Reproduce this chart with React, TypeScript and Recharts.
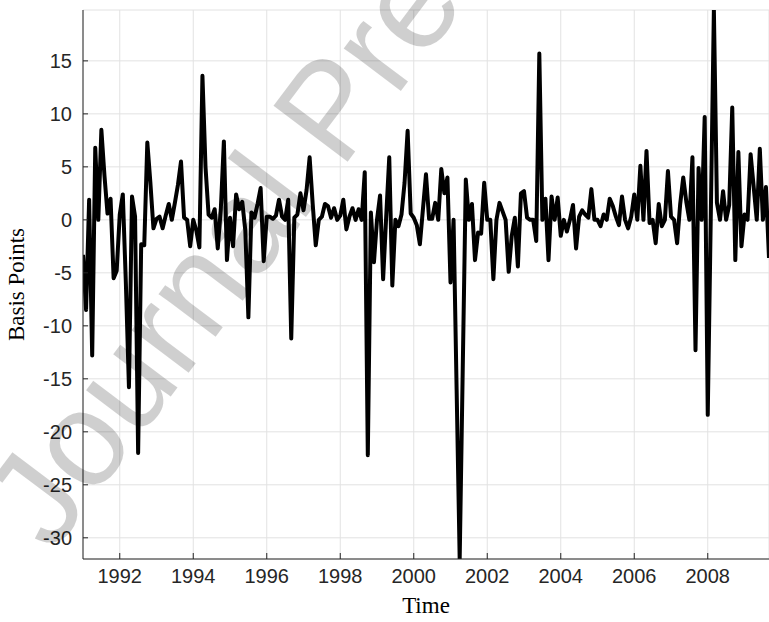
import { LineChart, Line, XAxis, YAxis, CartesianGrid } from 'recharts'

// monthly policy surprise, Jan 1991 .. Sep 2009 (basis points)
const startYear = 1991
const basisPoints = [
  -3.3, -8.5, 1.9, -12.8, 6.8, 0, 8.5, 4.2, 0.6, 2.0,
  -5.5, -4.8, 0.5, 2.4, -6, -15.8, 2.2, 0.3, -22.0, -2.3,
  -2.4, 7.3, 3.5, -0.8, 0.1, 0.3, -0.8, 0.4, 1.5, 0.0,
  1.6, 3.3, 5.5, 0.2, 0.0, -2.5, 0.0, -1.0, -2.6, 13.6,
  5.0, 0.5, 0.2, 1.0, -2.7, 1.0, 7.4, -3.8, 0.2, -2.5,
  2.4, 1.0, 1.7, -1.0, -9.2, 0.7, 0.2, 1.5, 3.0, -3.9,
  0.3, 0.3, 0.1, 0.4, 1.9, 0.3, 0.0, 1.9, -11.2, 0.2,
  0.5, 2.5, 0.9, 2.8, 5.9, 1.5, -2.4, 0.0, 0.3, 1.5,
  1.3, 0.2, 1.1, 0.0, 0.4, 1.9, -0.9, 0.3, 1.1, 0.0,
  1.0, 0.0, 4.5, -22.2, 0.7, -4.0, 0.0, 2.3, -5.6, 0.3,
  5.9, -6.2, 0.0, -0.6, 0.5, 3.5, 8.4, 0.6, 0.2, -0.5,
  -2.3, 1.0, 4.3, 0.1, 0.1, 1.6, 0.0, 4.8, 2.5, 4.0,
  -5.9, 0.0, -16, -32.0, -14, 3.8, 0.0, 1.5, -3.8, -1.2,
  -1.3, 3.5, 0.0, 0.0, -5.6, 0.0, 1.6, 0.8, 0.0, -4.9,
  -1.5, 0.2, -4.4, 2.5, 2.7, 0.2, 0.0, 0.0, -2.0, 15.7,
  0.0, 2.0, -3.8, 2.2, 0.0, 2.1, -1.5, 0.0, -1.1, 0.0,
  1.4, -2.7, 0.3, 0.9, 0.5, 0.2, 2.9, 0.0, 0.0, -0.6,
  0.5, 0.0, 2.0, 1.3, 0.3, -0.5, 2.2, 0.0, -0.8, 0.3,
  2.4, 0.0, 5.1, 0.0, 6.5, -0.3, 0.0, -2.2, 1.5, -0.6,
  0.0, 4.6, 0.3, 0.0, -2.2, 1.5, 4.0, 1.7, 0.0, 5.9,
  -12.3, 4.9, 0.0, 9.7, -18.4, 0.5, 19.8, 1.6, 0.0, 2.7,
  0.0, 1.4, 10.6, -3.8, 6.4, -2.5, 0.5, 0.0, 6.2, 3.1,
  0.0, 6.7, 0.0, 3.1, -3.6,
]
const yearTicks = [1992, 1994, 1996, 1998, 2000, 2002, 2004, 2006, 2008]
const bpTicks = [-30, -25, -20, -15, -10, -5, 0, 5, 10, 15]

const data = basisPoints.map((v, i) => ({ t: startYear + i / 12, v }))
const lastT = startYear + (basisPoints.length - 1) / 12

const axisColor = '#262626'
const tickFont = '"Liberation Sans", Arial, sans-serif'
const titleFont = '"Liberation Serif", "Times New Roman", serif'

function YTick({ x, y, payload }: any) {
  return (
    <g>
      <line x1={x + 11} x2={x + 16} y1={y} y2={y} stroke={axisColor} />
      <text x={x} y={y} dy={7} textAnchor="end" fontSize={20} fontFamily={tickFont} fill={axisColor}>
        {payload.value}
      </text>
    </g>
  )
}

function XTick({ x, y, payload }: any) {
  return (
    <g>
      <line x1={x} x2={x} y1={y} y2={y - 6} stroke={axisColor} />
      <text x={x} y={y} dy={24} textAnchor="middle" fontSize={20} fontFamily={tickFont} fill={axisColor}>
        {payload.value}
      </text>
    </g>
  )
}

// diagonal "Journal Pre-proof" stamp laid over the figure
function Watermark() {
  return (
    <svg
      width={769}
      height={622}
      style={{ position: 'absolute', left: 0, top: 0, pointerEvents: 'none' }}
    >
      <text
        x={52}
        y={554}
        transform="rotate(-53 52 554)"
        fontSize={135}
        fontFamily={tickFont}
        fill="#000"
        fillOpacity={0.19}
      >
        Journal Pre-proof
      </text>
    </svg>
  )
}

export default function App() {
  return (
    <div style={{ position: 'absolute', left: 0, top: 0, width: 769, height: 622, background: '#fff', overflow: 'hidden' }}>
      <LineChart width={769} height={622} data={data} margin={{ top: 10, right: 0, bottom: 0, left: 0 }}>
        <CartesianGrid stroke="#e2e2e2" strokeWidth={1} />
        <XAxis
          dataKey="t"
          type="number"
          domain={[startYear, lastT]}
          ticks={yearTicks}
          height={63}
          tickSize={0}
          tickMargin={0}
          tick={<XTick />}
          axisLine={{ stroke: axisColor }}
          tickLine={false}
          allowDataOverflow
          label={{
            value: 'Time',
            position: 'insideBottom',
            offset: 9,
            style: { fontFamily: titleFont, fontSize: 23, fill: '#000' },
          }}
        />
        <YAxis
          type="number"
          domain={[-32, 19.8]}
          ticks={bpTicks}
          width={83}
          tickSize={0}
          tickMargin={11}
          tick={<YTick />}
          axisLine={{ stroke: axisColor }}
          tickLine={false}
          allowDataOverflow
          label={{
            value: 'Basis Points',
            angle: -90,
            position: 'insideLeft',
            offset: 16,
            style: { fontFamily: titleFont, fontSize: 23, fill: '#000', textAnchor: 'middle' },
          }}
        />
        <Line
          type="linear"
          dataKey="v"
          stroke="#000"
          strokeWidth={4}
          strokeLinejoin="round"
          dot={false}
          isAnimationActive={false}
        />
      </LineChart>
      <Watermark />
    </div>
  )
}
